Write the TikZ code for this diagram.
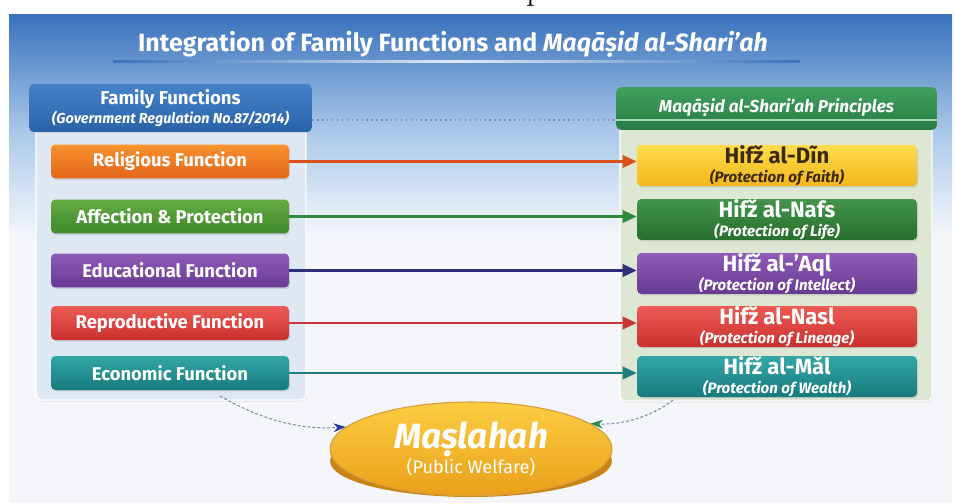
\documentclass[tikz,border=0pt]{standalone}
\usepackage{fontspec}
\newfontfamily\firasans{Fira Sans}
\usetikzlibrary{arrows.meta,shapes.geometric,shadows,positioning}

% colours of the slide
\definecolor{bgtop}{HTML}{3A72BC}
\definecolor{bgmid}{HTML}{ADCAEA}
\definecolor{bglow}{HTML}{F4F6FA}
\definecolor{hdblueA}{HTML}{4482C8}
\definecolor{hdblueB}{HTML}{2A62A8}
\definecolor{hdgreenA}{HTML}{41A05E}
\definecolor{hdgreenB}{HTML}{277C44}
\definecolor{famfill}{HTML}{DFE7F2}
\definecolor{maqfill}{HTML}{DDE7D4}
\definecolor{orA}{HTML}{F8922E}
\definecolor{orB}{HTML}{E2661A}
\definecolor{lgA}{HTML}{64AB42}
\definecolor{lgB}{HTML}{3F892D}
\definecolor{puA}{HTML}{8F5CB8}
\definecolor{puB}{HTML}{673A94}
\definecolor{reA}{HTML}{EC5B54}
\definecolor{reB}{HTML}{C9302F}
\definecolor{teA}{HTML}{33A6A6}
\definecolor{teB}{HTML}{177A7D}
\definecolor{yeA}{HTML}{FDDD4C}
\definecolor{yeB}{HTML}{F3B61C}
\definecolor{dinText}{HTML}{3B2A0E}
\definecolor{dgA}{HTML}{43954A}
\definecolor{dgB}{HTML}{276E2D}
\definecolor{arrRel}{HTML}{D9501E}
\definecolor{arrAff}{HTML}{2E8A3C}
\definecolor{arrEdu}{HTML}{2E2F7A}
\definecolor{arrRep}{HTML}{C83838}
\definecolor{arrEco}{HTML}{1E7F7E}
\definecolor{flowgray}{HTML}{7C8BA6}
\definecolor{flowblue}{HTML}{2B3A8C}
\definecolor{flowgreen}{HTML}{2E8B4A}
\definecolor{goldA}{HTML}{FCCD42}
\definecolor{goldB}{HTML}{E9A01A}
\definecolor{goldRim}{HTML}{C98312}

\newcommand{\mqsub}[1]{{\itshape\fontsize{8.6}{9}\selectfont #1}}

\begin{document}
\begin{tikzpicture}[x=0.02cm, y=-0.02cm,
  hdbox/.style={rounded corners=3pt, text=white, align=center,
    font=\firasans\bfseries\fontsize{10.6}{12}\selectfont},
  fnbox/.style={rounded corners=2.5pt, minimum width=4.76cm, minimum height=0.68cm,
    text=white, font=\firasans\bfseries\fontsize{10.5}{12}\selectfont,
    drop shadow={opacity=0.25, shadow xshift=0.6pt, shadow yshift=-0.8pt}},
  mqbox/.style={rounded corners=2.5pt, minimum width=5.6cm, minimum height=0.82cm,
    inner ysep=0pt, text=white, align=center, font=\firasans\bfseries\fontsize{12.6}{11}\selectfont,
    drop shadow={opacity=0.25, shadow xshift=0.6pt, shadow yshift=-0.8pt}},
  link/.style={line width=1.6pt, -{Triangle[length=8pt, width=7pt]}},
  toflow/.style={dash pattern=on 1.6pt off 1.2pt, line width=0.6pt, draw=flowgray},
  panel/.style={rounded corners=3pt, draw=white, line width=0.8pt,
    drop shadow={opacity=0.12, shadow xshift=0.5pt, shadow yshift=-1pt}}
]
  \useasboundingbox (0,0) rectangle (955,503);
  \fill[white] (0,0) rectangle (955,503);
  % cut-off line of text above the slide
  \node[anchor=base, font=\fontsize{20}{20}\selectfont] (cut) at (540,0) {p:};

  % slide background
  \shade[top color=bgtop, bottom color=bgmid] (9,15) rectangle (952,135);
  \shade[top color=bgmid, bottom color=bglow] (9,135) rectangle (952,235);
  \fill[bglow] (9,235) rectangle (952,503);

  % title
  \node[text=white, font=\firasans\bfseries\fontsize{14.2}{16}\selectfont] (title) at (453,44)
    {Integration of Family Functions and \textit{Maqāṣid al-Shari’ah}};
  \shade[left color=bgtop, right color=bgtop, middle color=white!85!bgtop]
    (113,61) rectangle (800,63);

  % panels
  \draw[panel, fill=famfill] (36,126) rectangle (306,400);
  \draw[panel, fill=maqfill] (620,126) rectangle (932,401);

  % headers
  \node[hdbox, top color=hdblueA, bottom color=hdblueB,
    minimum width=5.66cm, minimum height=0.88cm] (famhead) at (170.5,108)
    {Family Functions\\[-1.5pt]{\itshape\fontsize{8.2}{9}\selectfont (Government Regulation No.87/2014)}};
  \node[hdbox, top color=hdgreenA, bottom color=hdgreenB,
    minimum width=6.42cm, minimum height=0.86cm, font=\firasans\bfseries\itshape\fontsize{9.8}{11}\selectfont]
    (maqhead) at (776.5,108.5) {\raisebox{3pt}{Maqāṣid al-Shari’ah Principles}};
  \draw[white!55!hdgreenA, line width=0.8pt] (maqhead.west |- 0,120) -- (maqhead.east |- 0,120);
  \draw[flowgray, dotted, line width=0.8pt] (famhead.east |- 0,120) -- (maqhead.west |- 0,120);

  % family functions
  \node[fnbox, top color=orA, bottom color=orB] (relig) at (170,161.5) {Religious Function};
  \node[fnbox, top color=lgA, bottom color=lgB] (affec) at (170,216.5) {Affection \& Protection};
  \node[fnbox, top color=puA, bottom color=puB] (educ) at (170,270.5) {Educational Function};
  \node[fnbox, top color=reA, bottom color=reB] (repro) at (170,323) {Reproductive Function};
  \node[fnbox, top color=teA, bottom color=teB] (econ) at (170,373) {Economic Function};

  % maqasid principles
  \node[mqbox, top color=yeA, bottom color=yeB, text=dinText] (din) at (777,165.5)
    {Hifž al-Dĩn\\\mqsub{(Protection of Faith)}};
  \node[mqbox, top color=dgA, bottom color=dgB] (nafs) at (777,219.5)
    {Hifž al-Nafs\\\mqsub{(Protection of Life)}};
  \node[mqbox, top color=puA, bottom color=puB] (aql) at (777,273.5)
    {Hifž al-’Aql\\\mqsub{(Protection of Intellect)}};
  \node[mqbox, top color=reA, bottom color=reB] (nasl) at (777,326.5)
    {Hifž al-Nasl\\\mqsub{(Protection of Lineage)}};
  \node[mqbox, top color=teA, bottom color=teB] (mal) at (777,376.5)
    {Hifž al-Mǎl\\\mqsub{(Protection of Wealth)}};

  % links
  \draw[link, arrRel] (relig) -- (relig -| din.west);
  \draw[link, arrAff] (affec) -- (affec -| nafs.west);
  \draw[link, arrEdu] (educ) -- (educ -| aql.west);
  \draw[link, arrRep] (repro) -- (repro -| nasl.west);
  \draw[link, arrEco] (econ) -- (econ -| mal.west);

  % maslahah
  \fill[goldRim] (471,461) ellipse [x radius=2.82cm, y radius=0.72cm];
  \node[ellipse, minimum width=5.64cm, minimum height=1.44cm, top color=goldA, bottom color=goldB,
    draw=goldRim!80!white, line width=0.6pt, align=center, text=white] (masl) at (471,449)
    {{\firasans\bfseries\itshape\fontsize{20}{22}\selectfont Maṣlahah}\\[0pt]
     {\firasans\fontsize{10.3}{12}\selectfont (Public Welfare)}};

  \coordinate (famfoot) at (220,396);
  \coordinate (maqfoot) at (673,400);
  \draw[toflow, -{Stealth[length=7pt, width=5pt, color=flowblue]}]
    (famfoot) .. controls (262,420) and (300,430) .. (masl.170);
  \draw[toflow, -{Stealth[length=7pt, width=5pt, color=flowgreen]}]
    (maqfoot) .. controls (650,418) and (620,425) .. (masl.12);
\end{tikzpicture}
\end{document}
